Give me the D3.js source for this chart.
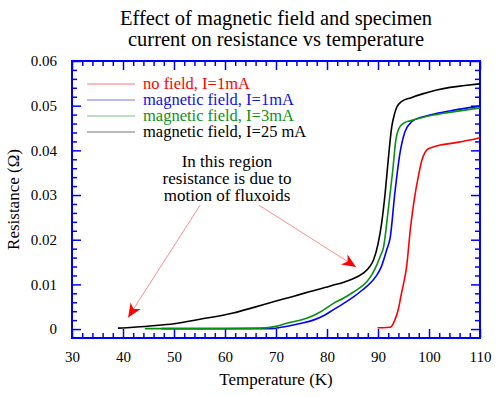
<!DOCTYPE html>
<html>
<head>
<meta charset="utf-8">
<script src="https://cdn.jsdelivr.net/npm/d3@7"></script>
</head>
<body style="margin:0; background:#fff">
<div id="viz"></div>
<script>
///// DATOS //////
let noField = [
    {t: 89.9, r: 0.0003}, {t: 91, r: 0.0003}, {t: 92.4, r: 0.0004}, {t: 93.3, r: 0.002},
    {t: 94, r: 0.0045}, {t: 94.6, r: 0.008}, {t: 95.6, r: 0.0139}, {t: 96.4, r: 0.0229},
    {t: 97.1, r: 0.0289}, {t: 97.9, r: 0.0341}, {t: 98.6, r: 0.0378}, {t: 99.2, r: 0.0395},
    {t: 99.7, r: 0.0402}, {t: 101, r: 0.0408}, {t: 102.2, r: 0.0412}, {t: 104, r: 0.0415},
    {t: 106.1, r: 0.0419}, {t: 108, r: 0.0423}, {t: 110, r: 0.0429}
];

let field1mA = [
    {t: 47.5, r: 0.0001}, {t: 55, r: 0.0001}, {t: 62, r: 0.0001}, {t: 69, r: 0.0001},
    {t: 71, r: 0.0004}, {t: 72.5, r: 0.0007}, {t: 75, r: 0.0013}, {t: 77.3, r: 0.002},
    {t: 79.5, r: 0.0031}, {t: 81.2, r: 0.0043}, {t: 83.2, r: 0.0057}, {t: 85.2, r: 0.0072},
    {t: 87, r: 0.0088}, {t: 88.4, r: 0.0102}, {t: 89.6, r: 0.0118}, {t: 90.6, r: 0.0138},
    {t: 91.7, r: 0.0177}, {t: 92.4, r: 0.0205}, {t: 93.3, r: 0.0304}, {t: 94.3, r: 0.0393},
    {t: 95.3, r: 0.0442}, {t: 96.6, r: 0.0464}, {t: 98.5, r: 0.0474}, {t: 100.8, r: 0.0481},
    {t: 104, r: 0.0488}, {t: 107, r: 0.0494}, {t: 110, r: 0.0499}
];

let field3mA = [
    {t: 44.3, r: 0.0001}, {t: 50, r: 0.0001}, {t: 60, r: 0.0001}, {t: 66.9, r: 0.0002},
    {t: 70, r: 0.0006}, {t: 72.1, r: 0.0013}, {t: 74, r: 0.0018}, {t: 76, r: 0.0024},
    {t: 78.5, r: 0.0037}, {t: 81.2, r: 0.0057}, {t: 83.2, r: 0.0069}, {t: 85.2, r: 0.0083},
    {t: 87.8, r: 0.0106}, {t: 88.8, r: 0.0122}, {t: 89.7, r: 0.0142}, {t: 90.4, r: 0.0162},
    {t: 91.1, r: 0.0184}, {t: 92, r: 0.0266}, {t: 92.9, r: 0.0356}, {t: 93.5, r: 0.0423},
    {t: 94.3, r: 0.0453}, {t: 95.2, r: 0.0462}, {t: 96.3, r: 0.0466}, {t: 98.5, r: 0.0473},
    {t: 100.8, r: 0.0479}, {t: 104, r: 0.0485}, {t: 107, r: 0.049}, {t: 110, r: 0.0495}
];

let field25mA = [
    {t: 39, r: 0.0002}, {t: 42, r: 0.0004}, {t: 45.3, r: 0.0007}, {t: 50, r: 0.0012},
    {t: 55.1, r: 0.0022}, {t: 61.6, r: 0.0036}, {t: 65.5, r: 0.0048}, {t: 69.5, r: 0.0061},
    {t: 73, r: 0.0072}, {t: 76.7, r: 0.0084}, {t: 80.5, r: 0.0096}, {t: 84.5, r: 0.011},
    {t: 87.1, r: 0.0125}, {t: 88.4, r: 0.014}, {t: 89.1, r: 0.0154}, {t: 90, r: 0.019},
    {t: 90.7, r: 0.0236}, {t: 91.4, r: 0.0304}, {t: 92, r: 0.0378}, {t: 92.7, r: 0.0453},
    {t: 93.2, r: 0.048}, {t: 93.7, r: 0.0497}, {t: 94.6, r: 0.0509}, {t: 96.5, r: 0.0518},
    {t: 98.9, r: 0.0527}, {t: 101.5, r: 0.0535}, {t: 104.1, r: 0.0541}, {t: 107, r: 0.0545},
    {t: 110, r: 0.0549}
];

let seriesNames = ['no field, I=1mA', 'magnetic field, I=1mA', 'magnetic field, I=3mA', 'magnetic field, I=25 mA'];
let xTicks = [30, 40, 50, 60, 70, 80, 90, 100, 110];
let yTicks = [0, 0.01, 0.02, 0.03, 0.04, 0.05, 0.06];
let titleLines = ['Effect of magnetic field and specimen', 'current on resistance vs temperature'];
let noteLines = ['In this region', 'resistance is due to', 'motion of fluxoids'];

///// VISUALIZACIÓN //////
let margin = {top: 61, right: 22, bottom: 59, left: 72};
let totalW = 502, totalH = 397;
let width = totalW - margin.left - margin.right,
    height = totalH - margin.top - margin.bottom;

function font(size) {
    return "font-family:'Liberation Serif','Times New Roman',serif;font-size:" + size + "px";
}

let svg = d3.select('#viz')
    .append('svg')
    .attr('width', totalW)
    .attr('height', totalH);

let chart = svg.append('g')
    .attr('transform', 'translate(' + margin.left + ',' + margin.top + ')');

let x = d3.scaleLinear().domain([30, 110]).range([0, width]);
let y = d3.scaleLinear().domain([-0.002, 0.06]).range([height, 0]);

let axisColor = '#0000ff';
let minorX = d3.range(30, 110.1, 2).filter(d => d % 10 != 0);
let minorY = d3.range(0, 0.0601, 0.002).filter(d => Math.abs(d * 100 - Math.round(d * 100)) > 1e-6);

function styleAxis(g) {
    g.attr('font-family', null).attr('font-size', null);
    g.select('.domain').remove();
    g.selectAll('.tick line').attr('stroke', axisColor).attr('stroke-width', 1.5);
    g.selectAll('.tick text')
        .attr('fill', '#000')
        .attr('style', font(15));
}

//Eje X abajo y arriba
chart.append('g').attr('transform', 'translate(0,' + height + ')')
    .call(d3.axisBottom(x).tickValues(xTicks).tickSize(-9).tickPadding(13).tickFormat(d3.format('d')))
    .call(styleAxis);
chart.append('g').attr('transform', 'translate(0,' + height + ')')
    .call(d3.axisBottom(x).tickValues(minorX).tickSize(-5).tickFormat(''))
    .call(styleAxis);
chart.append('g')
    .call(d3.axisTop(x).tickValues(xTicks).tickSize(-9).tickFormat(''))
    .call(styleAxis);
chart.append('g')
    .call(d3.axisTop(x).tickValues(minorX).tickSize(-5).tickFormat(''))
    .call(styleAxis);

//Eje Y izquierda y derecha
chart.append('g')
    .call(d3.axisLeft(y).tickValues(yTicks).tickSize(-9).tickPadding(15).tickFormat(d => d == 0 ? '0' : d3.format('.2f')(d)))
    .call(styleAxis);
chart.append('g')
    .call(d3.axisLeft(y).tickValues(minorY).tickSize(-5).tickFormat(''))
    .call(styleAxis);
chart.append('g').attr('transform', 'translate(' + width + ',0)')
    .call(d3.axisRight(y).tickValues(yTicks).tickSize(-9).tickFormat(''))
    .call(styleAxis);
chart.append('g').attr('transform', 'translate(' + width + ',0)')
    .call(d3.axisRight(y).tickValues(minorY).tickSize(-5).tickFormat(''))
    .call(styleAxis);

//Marco
chart.append('rect')
    .attr('width', width)
    .attr('height', height)
    .attr('fill', 'none')
    .attr('stroke', axisColor)
    .attr('stroke-width', 2);

//Líneas
let line = d3.line()
    .x(d => x(d.t))
    .y(d => y(d.r))
    .curve(d3.curveMonotoneX);

let series = [
    {data: noField, color: '#ff0000', text: '#ff0000'},
    {data: field1mA, color: '#0000ff', text: '#1010e8'},
    {data: field3mA, color: '#0a9010', text: '#109018'},
    {data: field25mA, color: '#000000', text: '#000000'}
];

series.forEach(function(s) {
    chart.append('path')
        .datum(s.data)
        .attr('fill', 'none')
        .attr('stroke', s.color)
        .attr('stroke-width', 1.6)
        .attr('d', line);
});

//Leyenda
let legend = svg.append('g');
seriesNames.forEach(function(name, i) {
    let yy = 84 + i * 16;
    legend.append('line')
        .attr('x1', 87).attr('x2', 135)
        .attr('y1', yy).attr('y2', yy)
        .attr('stroke', series[i].color)
        .attr('stroke-opacity', 0.55)
        .attr('stroke-width', 1);
    legend.append('text')
        .attr('x', 143)
        .attr('y', yy + 5)
        .attr('fill', series[i].text)
        .attr('style', font(16.5))
        .text(name);
});

//Título
svg.selectAll('.title')
    .data(titleLines)
    .enter()
    .append('text')
    .attr('class', 'title')
    .attr('x', margin.left + width / 2)
    .attr('y', (d, i) => 25 + i * 21)
    .attr('text-anchor', 'middle')
    .attr('style', font(20.5))
    .text(d => d);

//Ejes títulos
svg.append('text')
    .attr('x', margin.left + width / 2)
    .attr('y', 385)
    .attr('text-anchor', 'middle')
    .attr('style', font(17))
    .text('Temperature (K)');

svg.append('text')
    .attr('transform', 'translate(19,' + (margin.top + height / 2) + ') rotate(-90)')
    .attr('text-anchor', 'middle')
    .attr('style', font(17))
    .text('Resistance (Ω)');

//Anotación
let noteX = 60.4;
chart.selectAll('.note')
    .data(noteLines)
    .enter()
    .append('text')
    .attr('class', 'note')
    .attr('x', x(noteX))
    .attr('y', (d, i) => y(0.0362) + i * 17)
    .attr('text-anchor', 'middle')
    .attr('style', font(17))
    .text(d => d);

let arrows = [
    {from: [55.1, 0.0277], to: [41.0, 0.0026]},
    {from: [66.7, 0.0277], to: [85.7, 0.0139]}
];

arrows.forEach(function(a) {
    let x1 = x(a.from[0]), y1 = y(a.from[1]), x2 = x(a.to[0]), y2 = y(a.to[1]);
    let ang = Math.atan2(y2 - y1, x2 - x1) * 180 / Math.PI;
    chart.append('line')
        .attr('x1', x1).attr('y1', y1)
        .attr('x2', x2).attr('y2', y2)
        .attr('stroke', '#ff7070')
        .attr('stroke-width', 0.8);
    chart.append('path')
        .attr('d', 'M0,0 L-14,-6 L-10,0 L-14,6 Z')
        .attr('fill', '#ff0000')
        .attr('transform', 'translate(' + x2 + ',' + y2 + ') rotate(' + ang + ')');
});
</script>
</body>
</html>
